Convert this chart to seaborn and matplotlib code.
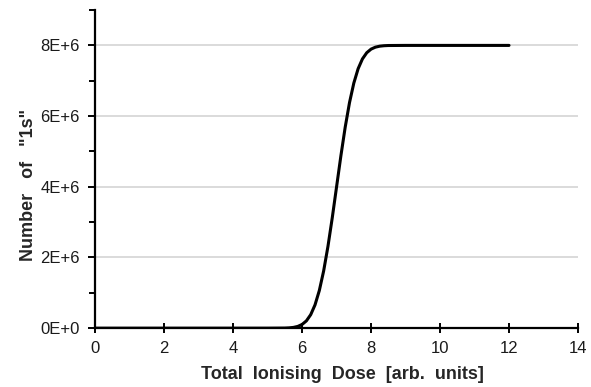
import matplotlib
matplotlib.use("Agg")
import matplotlib.pyplot as plt
import seaborn as sns
import pandas as pd
from matplotlib.ticker import MultipleLocator, FuncFormatter

dose = [0, 1, 2, 3, 4, 5, 5.5, 5.625, 5.75, 5.875, 6.0, 6.125, 6.25, 6.375, 6.5,
        6.625, 6.75, 6.875, 7.0, 7.125, 7.25, 7.375, 7.5, 7.625, 7.75, 7.875,
        8.0, 8.125, 8.25, 8.375, 8.5, 9, 10, 11, 12]
ones_millions = [0, 0, 0, 0, 0, 0, 0.003, 0.009, 0.022, 0.050, 0.105, 0.207, 0.382,
                 0.659, 1.066, 1.618, 2.314, 3.124, 4.0, 4.876, 5.686, 6.382, 6.934,
                 7.341, 7.618, 7.793, 7.895, 7.950, 7.978, 7.991, 7.997, 8.0, 8.0,
                 8.0, 8.0]

df = pd.DataFrame({"dose": dose, "ones": [v * 1e6 for v in ones_millions]})

sns.set_theme(style="white")
plt.rcParams["font.family"] = ["Liberation Sans", "DejaVu Sans"]

fig = plt.figure(figsize=(5.91, 3.87), dpi=100)
ax = fig.add_axes([0.161, 0.152, 0.817, 0.822])

sns.lineplot(data=df, x="dose", y="ones", ax=ax, color="black", linewidth=2.2)

ax.set_xlim(0, 14)
ax.set_ylim(0, 9e6)
ax.xaxis.set_major_locator(MultipleLocator(2))
ax.yaxis.set_major_locator(MultipleLocator(2e6))
ax.yaxis.set_minor_locator(MultipleLocator(1e6))
ax.yaxis.set_major_formatter(FuncFormatter(lambda v, p: f"{int(round(v / 1e6))}E+{6 if v else 0}"))

ax.yaxis.grid(True, which="major", color="#d4d4d4", linewidth=1.2)
ax.xaxis.grid(False)
ax.set_axisbelow(True)

for s in ["top", "right"]:
    ax.spines[s].set_visible(False)
for s in ["left", "bottom"]:
    ax.spines[s].set_visible(True)
    ax.spines[s].set_color("black")
    ax.spines[s].set_linewidth(1.6)

ax.tick_params(axis="y", which="major", direction="out", length=5, width=1.4,
               color="black", labelsize=12, labelcolor="#1a1a1a", pad=6, left=True)
ax.tick_params(axis="x", which="major", direction="inout", length=7, width=1.4,
               color="black", labelsize=12, labelcolor="#1a1a1a", pad=6, bottom=True)
ax.tick_params(axis="y", which="minor", direction="out", length=4, width=1.4,
               color="black", left=True)

ax.set_xlabel("Total  Ionising  Dose  [arb.  units]", fontsize=13, fontweight="bold")
ax.set_ylabel('Number   of   "1s"', fontsize=13, fontweight="bold")
ax.xaxis.set_label_coords(0.513, -0.12)
ax.yaxis.set_label_coords(-0.12, 0.45)

fig.savefig("out.png", dpi=100)
